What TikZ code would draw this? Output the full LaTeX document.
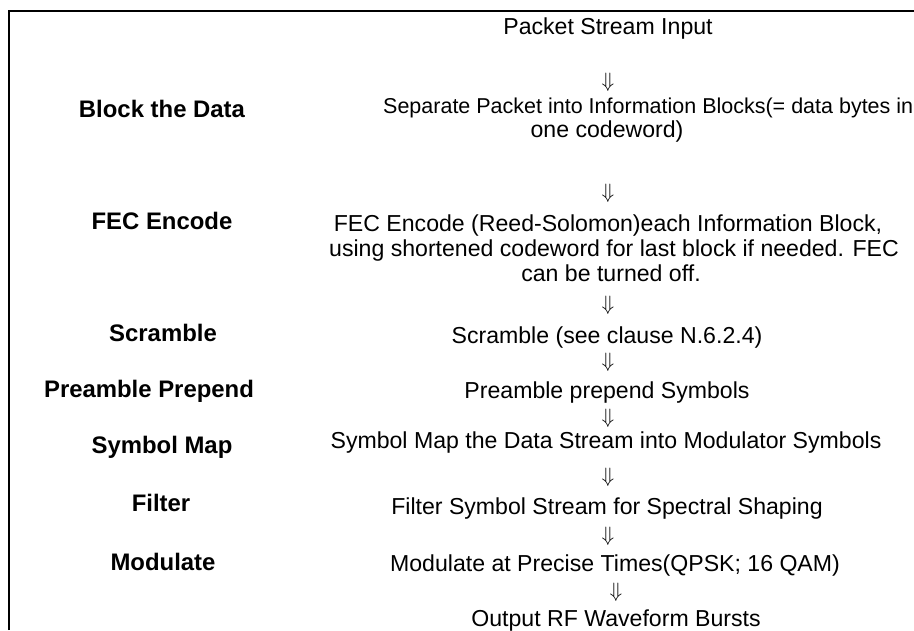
\documentclass[tikz,border=0pt]{standalone}
\usepackage{fontspec}
\setmainfont{Liberation Sans}
\begin{document}
\begin{tikzpicture}[x=1pt,y=-1pt,
  txt/.style={anchor=base,inner sep=0pt,font=\fontsize{23.1}{25}\selectfont},
  lbl/.style={anchor=base,inner sep=0pt,font=\fontsize{23.9}{25}\selectfont\bfseries},
  arr/.style={anchor=center,inner sep=0pt,font=\fontsize{22}{22}\selectfont}]
\useasboundingbox (0,0) rectangle (914,630);
\draw[line width=2pt] (8.5,630) -- (8.5,10.5) -- (914,10.5);
% centre column
\node[txt] (in) at (608,34) {Packet Stream Input};
\node[arr] (a1) at (608,82) {$\Downarrow$};
\node[txt,anchor=base west,font=\fontsize{21.5}{25}\selectfont] (s1) at (383,113) {Separate Packet into Information Blocks(= data bytes in};
\node[txt] (s1b) at (607,137) {one codeword)};
\node[arr] (a2) at (608,193) {$\Downarrow$};
\node[txt] (s2) at (608,231) {FEC Encode (Reed-Solomon)each Information Block,};
\node[txt] (s2b) at (614,256) {using shortened codeword for last block if needed. FEC};
\node[txt] (s2c) at (611,281) {can be turned off.};
\node[arr] (a3) at (608,305) {$\Downarrow$};
\node[txt] (s3) at (607,343) {Scramble (see clause N.6.2.4)};
\node[arr] (a4) at (608,362) {$\Downarrow$};
\node[txt] (s4) at (607,398) {Preamble prepend Symbols};
\node[arr] (a5) at (608,418) {$\Downarrow$};
\node[txt] (s5) at (606,448) {Symbol Map the Data Stream into Modulator Symbols};
\node[arr] (a6) at (608,477) {$\Downarrow$};
\node[txt] (s6) at (607,514) {Filter Symbol Stream for Spectral Shaping};
\node[arr] (a7) at (608,536) {$\Downarrow$};
\node[txt] (s7) at (615,571) {Modulate at Precise Times(QPSK; 16 QAM)};
\node[arr] (a8) at (616,592) {$\Downarrow$};
\node[txt] (out) at (616,626) {Output RF Waveform Bursts};
% left labels
\node[lbl] (l1) at (162,117) {Block the Data};
\node[lbl] (l2) at (162,229) {FEC Encode};
\node[lbl] (l3) at (163,341) {Scramble};
\node[lbl] (l4) at (149,397) {Preamble Prepend};
\node[lbl] (l5) at (162,453) {Symbol Map};
\node[lbl] (l6) at (161,511) {Filter};
\node[lbl] (l7) at (163,570) {Modulate};
\end{tikzpicture}
\end{document}
